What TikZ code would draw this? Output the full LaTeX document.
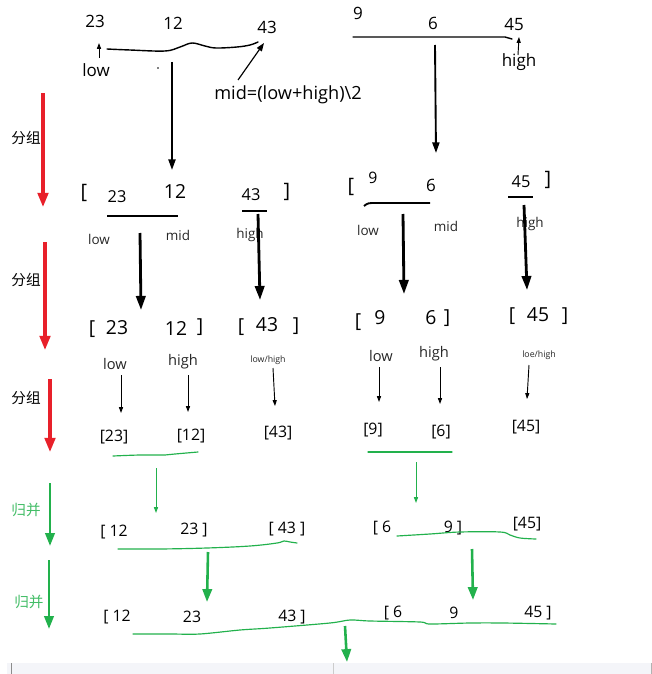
\documentclass[tikz,border=0pt]{standalone}
\usepackage{fontspec}
\setmainfont{Open Sans}
\newfontfamily\cjk{Noto Sans CJK SC}
\usepackage{tikz}
\usetikzlibrary{arrows.meta}

\definecolor{splitred}{HTML}{E8202A}
\definecolor{mergegreen}{HTML}{22B14C}
\definecolor{panelgray}{HTML}{F4F5F9}

\begin{document}
\begin{tikzpicture}[x=0.03cm, y=-0.03cm,
    txt/.style={inner sep=0pt},
    lbl/.style={inner sep=0pt, text=black!85},
    midarrow/.style={line width=1.6pt, -{Triangle[length=9pt, width=6pt]}},
    bigarrow/.style={line width=2.4pt, -{Triangle[length=12pt, width=8pt]}},
    thinarrow/.style={line width=0.8pt, -{Triangle[length=5pt, width=3.5pt]}},
    splitarrow/.style={splitred, line width=2.6pt, -{Triangle[length=12pt, width=9pt]}},
    mergearrow/.style={mergegreen, line width=2.2pt, -{Triangle[length=11pt, width=8pt]}},
    mergethin/.style={mergegreen, line width=0.8pt, -{Triangle[length=5pt, width=3.5pt]}},
    hand/.style={line width=1.2pt, line cap=round, line join=round},
    greenhand/.style={mergegreen, line width=1pt, line cap=round, line join=round}]
    \useasboundingbox (0,0) rectangle (652,674);

    % Bottom panel
    \fill[panelgray] (7,663) rectangle (652,674);
    \draw[black!45, line width=0.8pt] (11,663) -- (11,674);
    \draw[black!20] (333,663) -- (333,674);
    \draw[black!30] (651,663) -- (651,674);

    % Side steps
    \foreach \i/\x/\ya/\yb/\ty in {1/43/93/207/138, 2/45/242/350/280, 3/50/379/452/398} {
      \coordinate (ss\i) at (\x,\ya);
      \coordinate (se\i) at (\x,\yb);
      \draw[splitarrow] (ss\i) -- (se\i);
      \node[txt, font=\cjk\fontsize{12.5}{14}\selectfont] (split\i) at (26,\ty) {分组};
    }
    \foreach \i/\x/\ya/\yb/\tx/\ty in {1/50/483/546/26/510, 2/49/560/629/29/602} {
      \coordinate (ms\i) at (\x,\ya);
      \coordinate (me\i) at (\x,\yb);
      \draw[mergearrow] (ms\i) -- (me\i);
      \node[txt, text=mergegreen!85, font=\cjk\fontsize{12.5}{14}\selectfont] (merge\i) at (\tx,\ty) {归并};
    }

    % Row 1: the whole array
    \foreach \n/\x/\y/\t in {a/95/21/23, b/173/23/12, c/267/27/43, d/358/13/9, e/433/23/6, f/514/24/45} {
      \node[txt, font=\fontsize{14.5}{17}\selectfont] (top\n) at (\x,\y) {\t};
    }
    \node[txt, font=\fontsize{14.5}{17}\selectfont] (lowA) at (96,70) {low};
    \node[txt, font=\fontsize{14.5}{17}\selectfont] (highA) at (519,62) {high};
    \node[txt, font=\fontsize{15.5}{18}\selectfont] (midA) at (288,95) {mid=(low+high)\textbackslash 2};
    \fill (158,68) circle (0.7pt);
    \draw[hand] plot[smooth, tension=0.6] coordinates {(107,49) (130,50) (165,51) (180,47) (192,43) (205,46) (216,48) (237,47) (250,45) (258,42)};
    \draw[hand] (353,37) -- (505,37) -- (512,39);
    \coordinate (lowtip) at (99,43);
    \coordinate (hightip) at (519,37);
    \coordinate (midtip) at (264,43);
    \draw[thinarrow] (99,58) -- (lowtip);
    \draw[thinarrow] (518,55) -- (hightip);
    \draw[line width=1pt, -{Triangle[length=7pt, width=5pt]}] (238,80) -- (midtip);

    % Row 1 to row 2
    \foreach \i/\xa/\ya/\xb/\yb in {1/172/62/172/170, 2/435/45/436/153} {
      \coordinate (as\i) at (\xa,\ya);
      \coordinate (ae\i) at (\xb,\yb);
      \draw[midarrow] (as\i) -- (ae\i);
    }

    % Row 2: first split
    \foreach \n/\x/\y/\s/\t in {a/84/193/17/[, b/117/197/14/23, c/175/191/16.5/12, d/251/195/14/43, e/287/192/17/],
                                f/351/187/17/[, g/373/178/13.5/9, h/431/185/14.5/6, i/521/182/14/45, j/548/180/17/]} {
      \node[txt, font=\fontsize{\s}{\s}\selectfont] (sec\n) at (\x,\y) {\t};
    }
    \foreach \n/\x/\y/\t in {a/99/239/low, b/178/235/mid, c/250/235/high, d/368/230/low, e/446/226/mid, f/530/224/high} {
      \node[lbl, font=\fontsize{11.5}{13}\selectfont] (secl\n) at (\x,\y) {\t};
    }
    \draw[line width=1.1pt] (107,216) -- (178,216);
    \draw[line width=1.6pt] (242,211) -- (267,211);
    \draw[line width=1.6pt] (364,206) .. controls (368,203) .. (376,203) -- (430,203);
    \draw[line width=1.6pt] (508,197) -- (533,197);

    % Row 2 to row 3
    \foreach \i/\xa/\ya/\xb/\yb in {1/140/233/141/310, 2/258/214/260/300, 3/403/214/404/294, 4/524/205/527/290} {
      \coordinate (bs\i) at (\xa,\ya);
      \coordinate (be\i) at (\xb,\yb);
      \draw[bigarrow] (bs\i) -- (be\i);
    }

    % Row 3: second split
    \foreach \n/\x/\y/\t in {a/92/329/[, b/117/328/23, c/176/328/12, d/200/327/], e/241/327/[, f/267/325/43, g/296/326/],
                             h/358/322/[, i/380/318/9, j/431/318/6, k/447/318/], l/512/316/[, m/538/315/45, n/565/316/]} {
      \node[txt, font=\fontsize{16.5}{18}\selectfont] (thr\n) at (\x,\y) {\t};
    }
    \foreach \n/\x/\y/\s/\t in {a/115/364/12.5/low, b/183/362/12.5/high, c/268/360/7.5/{low/high},
                                d/381/356/12.5/low, e/434/354/12.5/high, f/539/355/7.5/{loe/high}} {
      \node[lbl, font=\fontsize{\s}{\s}\selectfont] (thrl\n) at (\x,\y) {\t};
    }

    % Row 3 to row 4
    \foreach \i/\xa/\ya/\xb/\yb in {1/121/375/121/413, 2/188/375/188/412, 3/273/368/275/406,
                                    4/379/367/379/402, 5/440/367/440/404, 6/529/365/527/399} {
      \coordinate (ts\i) at (\xa,\ya);
      \coordinate (te\i) at (\xb,\yb);
      \draw[thinarrow] (ts\i) -- (te\i);
    }

    % Row 4: single elements
    \foreach \n/\x/\y/\t in {a/114/437/[23], b/191/436/[12], c/278/433/[43], d/373/430/[9], e/441/432/[6], f/526/427/[45]} {
      \node[txt, font=\fontsize{13.5}{15}\selectfont] (one\n) at (\x,\y) {\t};
    }
    \draw[greenhand] plot[smooth, tension=0.6] coordinates {(113,456) (140,455) (165,455) (175,454) (198,452)};
    \draw[greenhand] (368,452) -- (452,452);

    % Row 4 to row 5
    \foreach \i/\x/\ya/\yb in {1/156/468/513, 2/416/462/503} {
      \coordinate (gs\i) at (\x,\ya);
      \coordinate (ge\i) at (\x,\yb);
      \draw[mergethin] (gs\i) -- (ge\i);
    }

    % Row 5: first merge
    \foreach \n/\x/\y/\t in {a/114/532/[ 12, b/194/530/23 ], c/287/529/[ 43 ], d/382/528/[ 6, e/453/528/9 ], f/527/524/[45]} {
      \node[txt, font=\fontsize{13.5}{15}\selectfont] (two\n) at (\x,\y) {\t};
    }
    \draw[greenhand] plot[smooth, tension=0.6] coordinates {(118,549) (160,549) (207,548) (250,546) (277,543) (284,541) (290,542) (297,543)};
    \draw[greenhand] plot[smooth, tension=0.6] coordinates {(397,536) (430,534) (460,532) (500,532) (510,535) (520,538) (536,539)};

    % Row 5 to row 6
    \foreach \i/\xa/\ya/\xb/\yb in {1/208/552/207/602, 2/472/549/473/600} {
      \coordinate (hs\i) at (\xa,\ya);
      \coordinate (he\i) at (\xb,\yb);
      \draw[mergearrow] (hs\i) -- (he\i);
    }

    % Row 6: sorted halves
    \foreach \n/\x/\y/\t in {a/117/617/[ 12, b/192/617/23, c/292/617/43 ], d/393/613/[ 6, e/454/613/9, f/538/613/45 ]} {
      \node[txt, font=\fontsize{13.5}{15}\selectfont] (fin\n) at (\x,\y) {\t};
    }
    \draw[greenhand] plot[smooth, tension=0.5] coordinates {(133,634) (170,634) (200,634) (240,630) (270,628) (330,623) (350,620) (370,621) (420,622) (430,624) (470,623) (503,623) (556,624)};
    \coordinate (ks) at (345,626);
    \coordinate (ke) at (347,662);
    \draw[mergearrow] (ks) -- (ke);

  \end{tikzpicture}
\end{document}
